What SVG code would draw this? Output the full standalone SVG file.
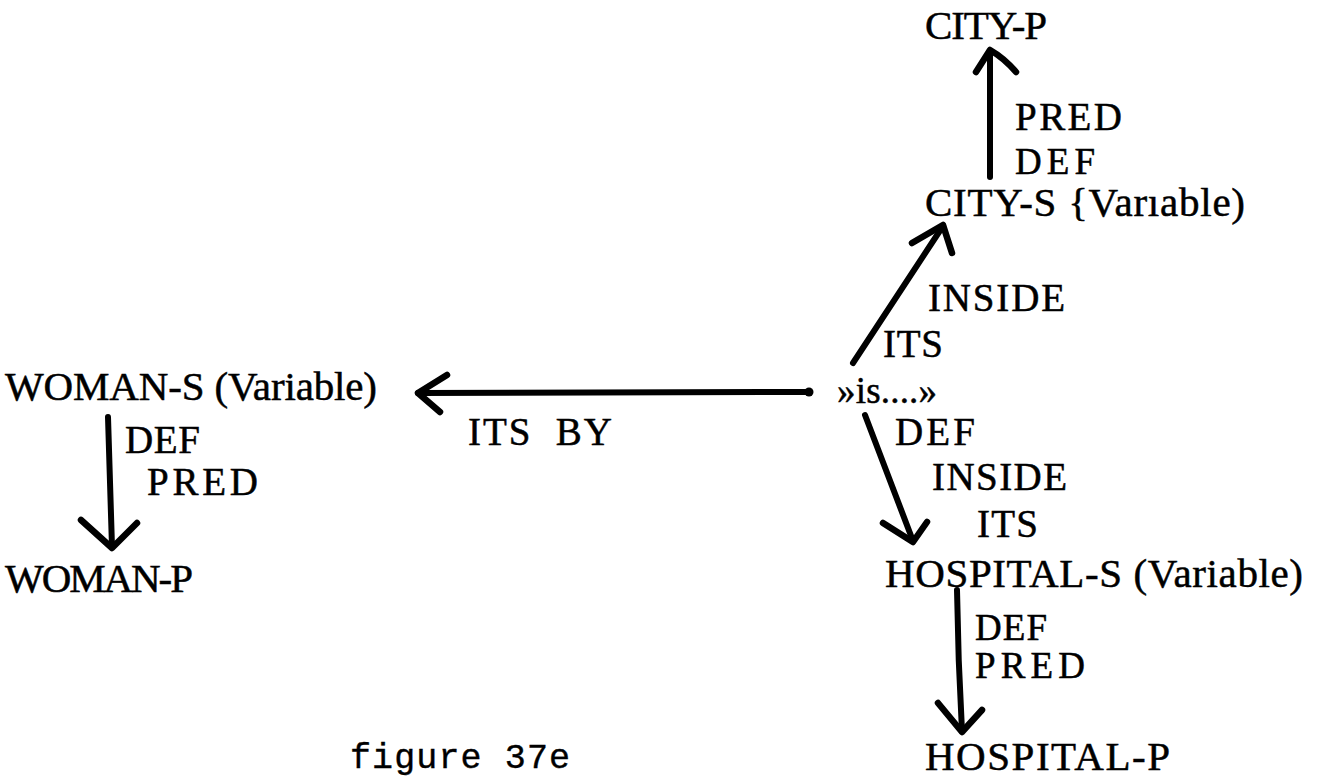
<svg xmlns="http://www.w3.org/2000/svg" width="1318" height="780" viewBox="0 0 1318 780">
  <style>
    text { font-family: "Liberation Serif", "Times New Roman", serif; font-size: 41px; fill: #000; stroke: #000; stroke-width: 0.5; }
    .lbl { font-size: 39px; }
    .tight { font-size: 37px; }
    .small { font-size: 37px; }
    .caption { font-family: "Liberation Mono", "Courier New", monospace; font-size: 35px; stroke-width: 0.4; }
    .edge { fill: none; stroke: #000; stroke-width: 6; stroke-linecap: round; stroke-linejoin: round; }
    .head { fill: none; stroke: #000; stroke-width: 6.5; stroke-linecap: round; stroke-linejoin: round; }
  </style>
  <rect width="1318" height="780" fill="#fff"/>

  <!-- connectors -->
  <g id="connectors">
    <!-- CITY-S to CITY-P -->
    <path class="edge" d="M990 177 L990 52"/>
    <path class="head" d="M976 72 L990 50 Q1004 58 1016 72"/>
    <!-- is to CITY-S -->
    <path class="edge" d="M853 363 L943 226"/>
    <path class="head" d="M912 243 L943 225 L952 253"/>
    <!-- is to WOMAN-S -->
    <path class="edge" d="M810 392 L418 393"/>
    <circle cx="809" cy="392" r="4.5" fill="#000"/>
    <path class="head" d="M447 375 L418 393 L440 412"/>
    <!-- WOMAN-S to WOMAN-P -->
    <path class="edge" d="M108 417 L112 547"/>
    <path class="head" d="M81 520 L112 548 L137 523"/>
    <!-- is to HOSPITAL-S -->
    <path class="edge" d="M865 415 L913 541"/>
    <path class="head" d="M883 523 L913 542 L927 522"/>
    <!-- HOSPITAL-S to HOSPITAL-P -->
    <path class="edge" d="M957 590 Q958 660 962 731"/>
    <path class="head" d="M938 703 L962 732 L982 710"/>
  </g>

  <!-- edge labels -->
  <g id="edge-labels">
    <text class="lbl" x="1015" y="130" textLength="107">PRED</text>
    <text class="tight" x="1015" y="174" textLength="80">DEF</text>
    <text class="lbl" x="928" y="311" textLength="137">INSIDE</text>
    <text class="lbl" x="883" y="357" textLength="60">ITS</text>
    <text class="lbl" x="468" y="445" textLength="144" xml:space="preserve">ITS  BY</text>
    <text class="lbl" x="895" y="445" textLength="80">DEF</text>
    <text class="lbl" x="932" y="490" textLength="135">INSIDE</text>
    <text class="lbl" x="977" y="537" textLength="61">ITS</text>
    <text class="lbl" x="125" y="453" textLength="75">DEF</text>
    <text class="lbl" x="147" y="495" textLength="111">PRED</text>
    <text class="tight" x="975" y="640" textLength="72">DEF</text>
    <text class="tight" x="975" y="678" textLength="110">PRED</text>
  </g>

  <!-- nodes -->
  <g id="city-p"><text x="925" y="39" textLength="122">CITY-P</text></g>
  <g id="city-s"><text x="925" y="216" textLength="320">CITY-S {Varıable)</text></g>
  <g id="is"><text class="small" x="837" y="403" textLength="100">»is....»</text></g>
  <g id="woman-s"><text x="5" y="400" textLength="372">WOMAN-S (Variable)</text></g>
  <g id="woman-p"><text x="5" y="592" textLength="188">WOMAN-P</text></g>
  <g id="hospital-s"><text x="885" y="587" textLength="418">HOSPITAL-S (Variable)</text></g>
  <g id="hospital-p"><text x="925" y="770" textLength="245">HOSPITAL-P</text></g>

  <!-- caption -->
  <g id="caption"><text class="caption" x="350" y="768" textLength="220">figure 37e</text></g>
</svg>
